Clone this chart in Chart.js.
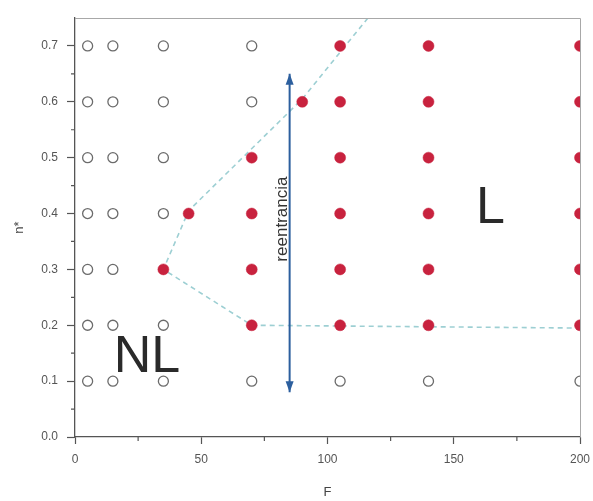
<!DOCTYPE html>
<html>
<head>
<meta charset="utf-8">
<script src="https://cdn.jsdelivr.net/npm/chart.js@4/dist/chart.umd.min.js"></script>
<style>
  html, body { margin: 0; padding: 0; background: #ffffff; }
  #wrap { width: 593px; height: 501px; }
</style>
</head>
<body>
<div id="wrap"><canvas id="c" width="593" height="501"></canvas></div>
<script>
// Phase map in the (F, n*) plane: open circles = non-localized (NL), filled = localized (L)
const nonLocalized = [
  [5, 0.1], [5, 0.2], [5, 0.3], [5, 0.4], [5, 0.5], [5, 0.6], [5, 0.7],
  [15, 0.1], [15, 0.2], [15, 0.3], [15, 0.4], [15, 0.5], [15, 0.6], [15, 0.7],
  [35, 0.1], [35, 0.2], [35, 0.4], [35, 0.5], [35, 0.6], [35, 0.7],
  [70, 0.1], [70, 0.6], [70, 0.7],
  [105, 0.1], [140, 0.1], [200, 0.1]
];
const localized = [
  [35, 0.3], [45, 0.4],
  [70, 0.2], [70, 0.3], [70, 0.4], [70, 0.5],
  [90, 0.6],
  [105, 0.2], [105, 0.3], [105, 0.4], [105, 0.5], [105, 0.6], [105, 0.7],
  [140, 0.2], [140, 0.3], [140, 0.4], [140, 0.5], [140, 0.6], [140, 0.7],
  [200, 0.2], [200, 0.3], [200, 0.4], [200, 0.5], [200, 0.6], [200, 0.7]
];
// Dashed NL / L boundary
const boundary = [[116, 0.75], [90, 0.605], [45, 0.405], [35, 0.3], [70, 0.2], [200, 0.195]];
// Vertical double arrow marking the re-entrance window
const reentrance = [[85, 0.08], [85, 0.65]];

const xMajorTicks = [0, 50, 100, 150, 200];
const xMinorTicks = [25, 75, 125, 175];
const yMajorTicks = [0, 0.1, 0.2, 0.3, 0.4, 0.5, 0.6, 0.7];
const yMinorTicks = [0.05, 0.15, 0.25, 0.35, 0.45, 0.55, 0.65];

// Region labels placed in data units
const regionLabels = [
  { text: 'NL', x: 28.5, y: 0.116, size: 52 },
  { text: 'L',  x: 164.5, y: 0.383, size: 52 }
];
const arrowLabel = { text: 'reentrancia', x: 82, y: 0.39 };

const toXY = pts => pts.map(([x, y]) => ({ x, y }));
const FONT = "'Liberation Sans', Arial, sans-serif";
const AXIS_COLOR = '#555555';

const decorations = {
  id: 'decorations',
  afterDatasetsDraw(chart) {
    const { ctx, chartArea: a, scales: { x, y } } = chart;
    ctx.save();

    // light frame on top and right
    ctx.strokeStyle = '#a8a8a8';
    ctx.lineWidth = 1;
    ctx.beginPath();
    ctx.moveTo(a.left, a.top + 0.5);
    ctx.lineTo(a.right + 0.5, a.top + 0.5);
    ctx.lineTo(a.right + 0.5, a.bottom);
    ctx.stroke();

    // short minor ticks
    ctx.strokeStyle = AXIS_COLOR;
    ctx.lineWidth = 1.2;
    ctx.beginPath();
    xMinorTicks.forEach(v => {
      const px = x.getPixelForValue(v);
      ctx.moveTo(px, a.bottom);
      ctx.lineTo(px, a.bottom + 4);
    });
    yMinorTicks.forEach(v => {
      const py = y.getPixelForValue(v);
      ctx.moveTo(a.left, py);
      ctx.lineTo(a.left - 4, py);
    });
    ctx.stroke();

    // arrow heads on the re-entrance arrow
    const meta = chart.getDatasetMeta(2);
    const [p0, p1] = meta.data;
    ctx.fillStyle = '#2c5f9e';
    const head = (px, py, dir) => {
      ctx.beginPath();
      ctx.moveTo(px, py);
      ctx.lineTo(px - 4, py - dir * 11);
      ctx.lineTo(px + 4, py - dir * 11);
      ctx.closePath();
      ctx.fill();
    };
    head(p0.x, p0.y, 1);   // bottom tip points down
    head(p1.x, p1.y, -1);  // top tip points up

    // region labels
    ctx.fillStyle = '#2a2a2a';
    ctx.textAlign = 'center';
    ctx.textBaseline = 'alphabetic';
    regionLabels.forEach(l => {
      ctx.font = `${l.size}px ${FONT}`;
      ctx.fillText(l.text, x.getPixelForValue(l.x), y.getPixelForValue(l.y));
    });

    // rotated arrow caption
    ctx.save();
    ctx.translate(x.getPixelForValue(arrowLabel.x), y.getPixelForValue(arrowLabel.y));
    ctx.rotate(-Math.PI / 2);
    ctx.font = `17px ${FONT}`;
    ctx.fillStyle = '#333333';
    ctx.textAlign = 'center';
    ctx.textBaseline = 'middle';
    ctx.fillText(arrowLabel.text, 0, 0);
    ctx.restore();

    ctx.restore();
  }
};

new Chart(document.getElementById('c'), {
  type: 'scatter',
  data: {
    datasets: [
      {
        label: 'NL',
        data: toXY(nonLocalized),
        pointStyle: 'circle',
        pointRadius: 5,
        pointBackgroundColor: 'rgba(255,255,255,0)',
        pointBorderColor: '#6b6b6b',
        pointBorderWidth: 1.3,
        clip: 0,
        order: 0
      },
      {
        label: 'L',
        data: toXY(localized),
        pointStyle: 'circle',
        pointRadius: 5.5,
        pointBackgroundColor: '#c8223e',
        pointBorderColor: '#c8223e',
        pointBorderWidth: 0.5,
        clip: 0,
        order: 0
      },
      {
        label: 'reentrancia',
        data: toXY(reentrance),
        showLine: true,
        borderColor: '#2c5f9e',
        borderWidth: 2,
        pointRadius: 0,
        clip: false,
        order: 1
      },
      {
        label: 'frontera',
        data: toXY(boundary),
        showLine: true,
        borderColor: '#9dcfd3',
        borderWidth: 1.6,
        borderDash: [5, 4],
        pointRadius: 0,
        tension: 0,
        clip: 0,
        order: 2
      }
    ]
  },
  options: {
    responsive: false,
    devicePixelRatio: 1,
    animation: false,
    layout: { padding: { top: 18, right: 13, left: 0, bottom: 0 } },
    plugins: {
      legend: { display: false },
      tooltip: { enabled: false }
    },
    scales: {
      x: {
        type: 'linear',
        min: 0,
        max: 200,
        afterBuildTicks: s => { s.ticks = xMajorTicks.map(v => ({ value: v })); },
        afterFit: s => { s.height = 64; s.paddingLeft = 0; s.paddingRight = 0; },
        ticks: {
          color: '#555555',
          font: { family: FONT, size: 12 },
          padding: 8,
          maxRotation: 0,
          autoSkip: false,
          callback: v => String(v)
        },
        grid: {
          drawOnChartArea: false,
          drawTicks: true,
          tickLength: 7,
          tickColor: AXIS_COLOR,
          tickWidth: 1.2
        },
        border: { color: AXIS_COLOR, width: 1.3 },
        title: {
          display: true,
          text: 'F',
          color: '#444444',
          font: { family: FONT, size: 13 },
          padding: { top: 0, bottom: 1 }
        }
      },
      y: {
        type: 'linear',
        min: 0,
        max: 0.75,
        afterBuildTicks: s => { s.ticks = yMajorTicks.map(v => ({ value: v })); },
        afterFit: s => { s.width = 75; s.paddingTop = 0; s.paddingBottom = 0; },
        ticks: {
          color: '#555555',
          font: { family: FONT, size: 12 },
          padding: 9,
          autoSkip: false,
          callback: v => v.toFixed(1)
        },
        grid: {
          drawOnChartArea: false,
          drawTicks: true,
          tickLength: 8,
          tickColor: AXIS_COLOR,
          tickWidth: 1.2
        },
        border: { color: AXIS_COLOR, width: 1.3 },
        title: {
          display: true,
          text: 'n*',
          color: '#444444',
          font: { family: FONT, size: 13 },
          padding: { top: 12, bottom: 0 }
        }
      }
    }
  },
  plugins: [decorations]
});
</script>
</body>
</html>
